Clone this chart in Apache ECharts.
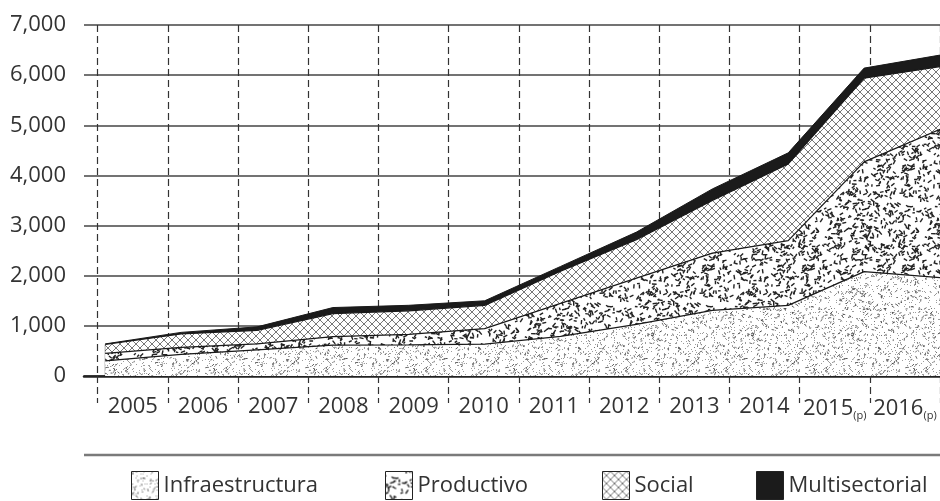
<!DOCTYPE html>
<html>
<head>
<meta charset="utf-8">
<script src="https://cdn.jsdelivr.net/npm/echarts@6/dist/echarts.min.js"></script>
<style>
html,body{margin:0;padding:0;background:#fff;}
#chart{width:940px;height:501px;}
</style>
</head>
<body>
<div id="chart"></div>
<script>
// ---- data ----
const yearLabels = ['2005','2006','2007','2008','2009','2010','2011','2012','2013','2014','2015(p)','2016(p)'];
const yearValues = [2005,2006,2007,2008,2009,2010,2011,2012,2013,2014,2015,2016];
const infraestructura = [300, 430, 520, 615, 620, 635, 790, 1030, 1310, 1410, 2080, 1960];
const productivo      = [150, 140, 120, 170, 210, 310, 660, 920, 1140, 1290, 2190, 2960];
const social          = [180, 270, 270, 460, 470, 465, 640, 770, 1050, 1530, 1670, 1250];
const multisectorial  = [10, 30, 70, 120, 110, 90, 95, 150, 230, 220, 200, 230];
const seriesNames = ['Infraestructura','Productivo','Social','Multisectorial'];
const yTicks = [0,1000,2000,3000,4000,5000,6000,7000];

// ---- texture helpers (deterministic) ----
function h(i){ const x = Math.sin(i*12.9898+78.233)*43758.5453; return x-Math.floor(x); }
function speckle(size, count, len, width, color, seed, dots){
  const c = document.createElement('canvas'); c.width=size; c.height=size;
  const g = c.getContext('2d');
  g.fillStyle='#fff'; g.fillRect(0,0,size,size);
  if (dots) {
    g.fillStyle = dots.color;
    for (let i=0;i<dots.count;i++){
      const x=Math.floor(h(seed+9000+i*2)*size), y=Math.floor(h(seed+9001+i*2)*size);
      g.fillRect(x,y,1,1);
    }
  }
  g.strokeStyle=color; g.lineWidth=width; g.lineCap='butt';
  for(let i=0;i<count;i++){
    const x=h(seed+i*3+1)*size, y=h(seed+i*3+2)*size, a=h(seed+i*3+3)*Math.PI;
    const l=len*(0.6+h(seed+i*7+5)*0.6);
    const dx=Math.cos(a)*l/2, dy=Math.sin(a)*l/2;
    for(const ox of [-size,0,size]) for(const oy of [-size,0,size]){
      g.beginPath(); g.moveTo(x-dx+ox,y-dy+oy); g.lineTo(x+dx+ox,y+dy+oy); g.stroke();
    }
  }
  return c;
}
function crosshatch(p, color, width){
  const c=document.createElement('canvas'); c.width=p; c.height=p;
  const g=c.getContext('2d'); g.fillStyle='#fff'; g.fillRect(0,0,p,p);
  g.strokeStyle=color; g.lineWidth=width;
  for(const o of [-p,0,p]){
    g.beginPath(); g.moveTo(o,0); g.lineTo(o+p,p); g.stroke();
    g.beginPath(); g.moveTo(o+p,0); g.lineTo(o,p); g.stroke();
  }
  return c;
}
const patInfra = {image: speckle(100, 330, 2.6, 1, 'rgba(40,40,40,0.7)', 11, {count: 700, color: 'rgba(90,90,90,0.6)'}), repeat:'repeat'};
const patProd  = {image: speckle(100, 520, 4, 1.4, '#222', 500), repeat:'repeat'};
const patSocial= {image: crosshatch(8, '#777', 1), repeat:'repeat'};
const colMulti = '#1b1b1b';
const fills = [patInfra, patProd, patSocial, colMulti];
const seriesData = [infraestructura, productivo, social, multisectorial];

// cumulative tops (stack built from the series arrays)
const cumulative = [];
seriesData.forEach((arr, si) => {
  cumulative.push(arr.map((v, i) => v + (si > 0 ? cumulative[si-1][i] : 0)));
});

const FONT = 'Open Sans';
const chart = echarts.init(document.getElementById('chart'), null, {renderer:'canvas'});

const series = seriesNames.map((name, si) => ({
  name: name,
  type: 'line',
  xAxisIndex: 0, yAxisIndex: 0,
  symbol: 'none',
  data: cumulative[si].map((v, i) => [yearValues[i], v]),
  lineStyle: {color: '#1a1a1a', width: si === 3 ? 1 : 1.3},
  itemStyle: {color: si === 3 ? colMulti : '#555'},
  areaStyle: {color: fills[si], opacity: 1, origin: 'start'},
  z: 10 - si,
  silent: true,
  markLine: si === 0 ? {
    symbol: 'none', silent: true, label: {show:false},
    lineStyle: {color:'#1a1a1a', width:1.3, type:'solid'},
    data: [[{coord:[yearValues[0], 0]}, {coord:[yearValues[0], cumulative[2][0]]}]]
  } : undefined
}));

const legendX = [126, 380, 597, 751];
const legends = seriesNames.map((n, i) => ({
  data: [{name: n, icon: 'rect', itemStyle: {color: fills[i], borderColor: '#222', borderWidth: 1}}],
  left: legendX[i], top: 466,
  itemWidth: 27, itemHeight: 28, itemGap: 0,
  textStyle: {fontFamily: FONT, fontSize: 22, color: '#333'},
  selectedMode: false
}));

const option = {
  animation: false,
  backgroundColor: '#fff',
  grid: [
    {left: 84, right: -10, top: 25, bottom: 125},
    {left: 97.7, right: -6.7, top: 25, bottom: 125}
  ],
  xAxis: [
    {type:'value', gridIndex:0, min: 2004.72, max: 2016,
     axisLine:{show:true, onZero:false, lineStyle:{color:'#222', width:2.5}},
     axisTick:{show:false}, axisLabel:{show:false}, splitLine:{show:false}},
    {type:'category', gridIndex:1, data: yearLabels, boundaryGap:true,
     axisLine:{show:false},
     axisTick:{show:true, interval:0, length:27, lineStyle:{color:'#333', width:1.2, type:[7,4]}},
     splitLine:{show:true, interval:0, lineStyle:{color:'#333', width:1.2, type:[7,4]}},
     axisLabel:{show:true, interval:0, margin:20, color:'#333', fontFamily:FONT, fontSize:22,
       formatter: v => v.indexOf('(p)') >= 0 ? v.replace('(p)','') + '{p|(p)}' : v,
       rich:{p:{fontSize:11, fontFamily:FONT, color:'#333', padding:[14,0,0,0]}}}}
  ],
  yAxis: [
    {type:'value', gridIndex:0, min: yTicks[0], max: yTicks[yTicks.length-1], interval: 1000,
     axisLine:{show:false}, axisTick:{show:false},
     splitLine:{show:true, lineStyle:{color:'#444', width:1.5}},
     axisLabel:{margin:18, color:'#333', fontFamily:FONT, fontSize:22,
       formatter: v => v.toLocaleString('en-US')}},
    {type:'value', gridIndex:1, min:0, max:7000, show:false}
  ],
  legend: legends,
  graphic: [
    {type:'line', shape:{x1:84, y1:455, x2:940, y2:455}, style:{stroke:'#7a7a7a', lineWidth:2.5}, silent:true}
  ],
  series: series
};
chart.setOption(option);
</script>
</body>
</html>
